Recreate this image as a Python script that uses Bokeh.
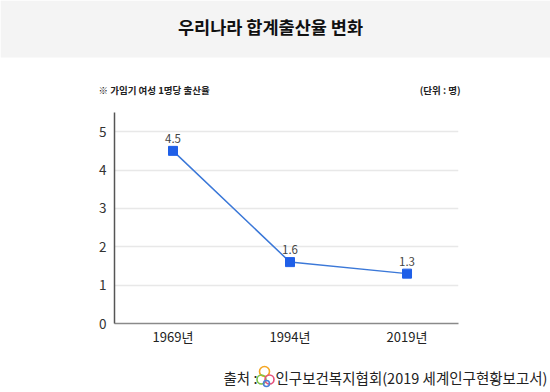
from bokeh.plotting import figure
from bokeh.layouts import column
from bokeh.models import ColumnDataSource, LabelSet, Range1d, FixedTicker, Plot
from bokeh.core.properties import value
from bokeh.embed import file_html
from bokeh.resources import INLINE

# ---- data ----
years = ["1969년", "1994년", "2019년"]
tfr = [4.5, 1.6, 1.3]
y_ticks = [0, 1, 2, 3, 4, 5]

title_text = "우리나라 합계출산율 변화"
note_text = "※ 가임기 여성 1명당 출산율"
unit_text = "(단위 : 명)"
src_label = "출처 :"
src_text = "인구보건복지협회(2019 세계인구현황보고서)"

FONT = "Noto Sans CJK KR"
W = 550
TOP_H = 100      # title band + note line
MAIN_H = 257     # chart
FOOT_H = 35      # source line

HAS_FA = "frame_align" in Plot.properties()


def blank(h):
    f = figure(width=W, height=h, output_backend="svg", toolbar_location=None,
               x_range=Range1d(0, W), y_range=Range1d(h, 0),
               x_axis_type=None, y_axis_type=None,
               min_border=0, min_border_left=0, min_border_right=0,
               min_border_top=0, min_border_bottom=0)
    f.outline_line_color = None
    f.grid.visible = False
    f.background_fill_color = "white"
    f.border_fill_color = "white"
    if HAS_FA:
        f.frame_align = False
    return f


# ---- header ----
top = blank(TOP_H)
top.quad(left=0, right=W, top=0, bottom=57, fill_color="#f4f4f4", line_color=None)
top.text(x=[270], y=[26], text=[title_text], text_align="center",
         text_baseline="middle", text_font=value(FONT),
         text_font_size=value("17.5px"), text_font_style="bold", text_color="#111111")
top.text(x=[98], y=[89], text=[note_text], text_align="left",
         text_baseline="middle", text_font=value(FONT),
         text_font_size=value("9.5px"), text_font_style="bold", text_color="#222222")
top.text(x=[460], y=[89], text=[unit_text], text_align="right",
         text_baseline="middle", text_font=value(FONT),
         text_font_size=value("9.5px"), text_font_style="bold", text_color="#222222")

# ---- main chart ----
FL, FR = 114, 458
X0, X1 = -0.5, 2.44
xs = list(range(len(years)))
src = ColumnDataSource(dict(x=xs, y=tfr, lab=[f"{v}" for v in tfr]))

p = figure(width=W, height=MAIN_H, output_backend="svg", toolbar_location=None,
           x_range=Range1d(X0, X1), y_range=Range1d(0, 5.5),
           min_border_left=FL, min_border_right=W - FR,
           min_border_top=12, min_border_bottom=34)
p.outline_line_color = None
p.background_fill_color = "white"
p.border_fill_color = "white"
if HAS_FA:
    p.frame_align = False

p.xaxis.ticker = FixedTicker(ticks=xs)
p.xaxis.major_label_overrides = {i: t for i, t in enumerate(years)}
p.xaxis.major_tick_line_color = None
p.xaxis.major_tick_out = 0
p.xaxis.major_tick_in = 0
p.xaxis.minor_tick_line_color = None
p.xaxis.axis_line_color = "#8a8a8a"
p.xaxis.axis_line_width = 1.5
p.xaxis.major_label_text_font = FONT
p.xaxis.major_label_text_font_size = "13px"
p.xaxis.major_label_text_color = "#222222"
p.xaxis.major_label_standoff = 3

p.yaxis.ticker = FixedTicker(ticks=y_ticks)
p.yaxis.major_tick_line_color = None
p.yaxis.major_tick_out = 0
p.yaxis.major_tick_in = 0
p.yaxis.minor_tick_line_color = None
p.yaxis.axis_line_color = "#555555"
p.yaxis.axis_line_width = 1.5
p.yaxis.major_label_text_font = FONT
p.yaxis.major_label_text_font_size = "13.5px"
p.yaxis.major_label_text_color = "#333333"
p.yaxis.major_label_standoff = 8

p.xgrid.grid_line_color = None
p.ygrid.ticker = FixedTicker(ticks=y_ticks[1:])
p.ygrid.grid_line_color = "#e8e8e8"
p.ygrid.grid_line_width = 1.5

p.line("x", "y", source=src, line_color="#3b78d8", line_width=1.5)
p.scatter("x", "y", source=src, marker="square", size=9,
          fill_color="#1f5fe8", line_color="#1f5fe8")
p.add_layout(LabelSet(x="x", y="y", text="lab", source=src, y_offset=8,
                      text_align="center", text_baseline="bottom",
                      text_font=value(FONT), text_font_size=value("11.5px"),
                      text_color="#444444"))

# ---- footer ----
OFF = 357
foot = blank(FOOT_H)
foot.text(x=[223], y=[377 - OFF], text=[src_label], text_align="left",
          text_baseline="middle", text_font=value(FONT),
          text_font_size=value("14.5px"), text_color="#222222")
foot.scatter(x=[264, 261, 269, 266], y=[371 - OFF, 379 - OFF, 379 - OFF, 383 - OFF],
             marker="circle", size=[10, 9, 9, 6], fill_color=None,
             line_color=["#f5a623", "#7cc242", "#e8507a", "#4a7fd6"], line_width=1.6)
foot.text(x=[275], y=[377 - OFF], text=[src_text], text_align="left",
          text_baseline="middle", text_font=value(FONT),
          text_font_size=value("14.5px"), text_color="#222222")

if HAS_FA:
    layout = column(top, p, foot, spacing=0)
else:
    layout = column(column(top), column(p), column(foot), spacing=0)

html = file_html(layout, INLINE)
html = html.replace("<head>", "<head><style>html,body{margin:0;padding:0;overflow:hidden;}</style>", 1)
open("out.html", "w").write(html)
